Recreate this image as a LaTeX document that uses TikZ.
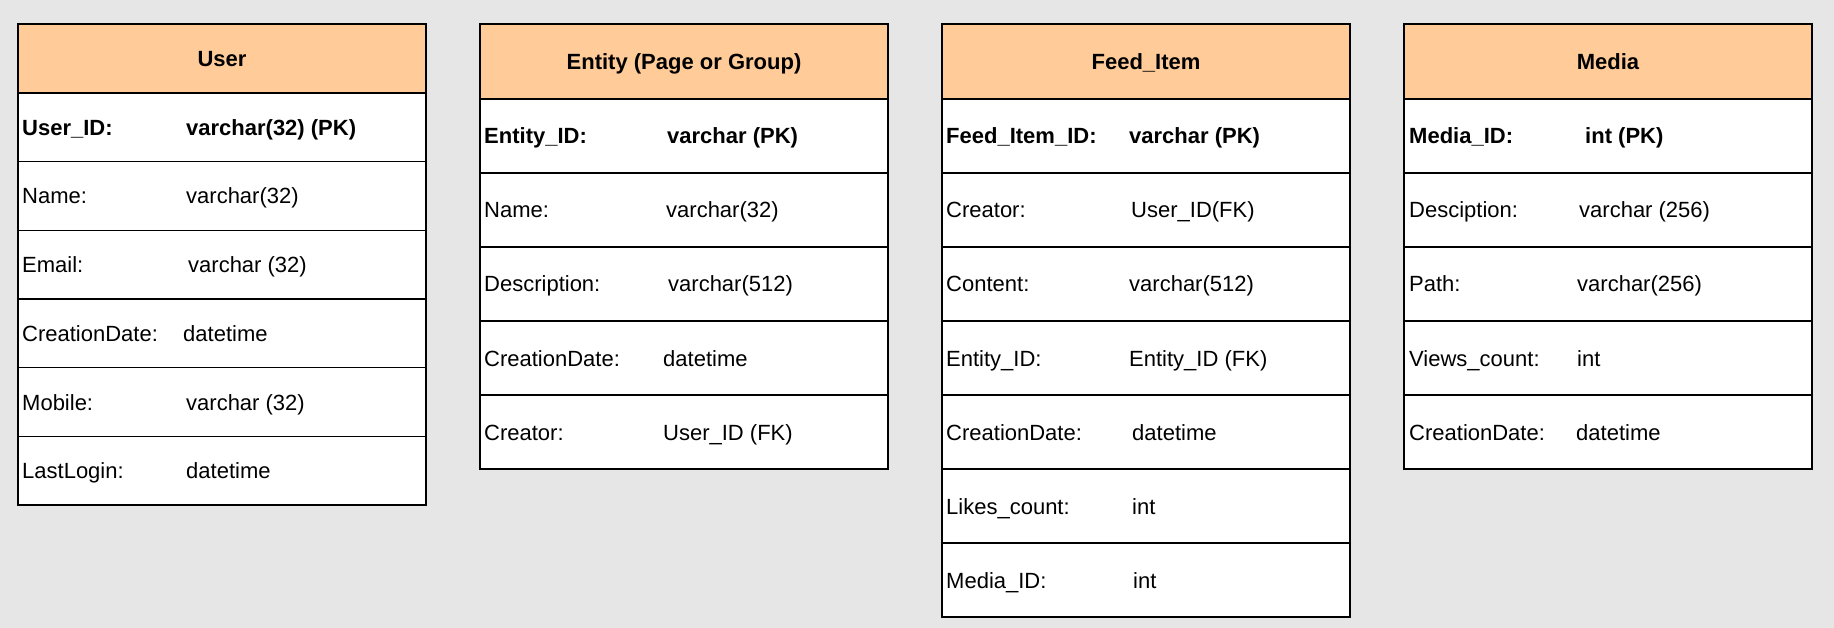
\documentclass[tikz,border=0pt]{standalone}
\usepackage{fontspec}
\setmainfont{Liberation Sans}
\usepackage{tikz}

\definecolor{canvas}{HTML}{E6E6E6}
\definecolor{headfill}{HTML}{FFCC99}

\tikzset{
  tabhead/.style={draw=black, fill=headfill, line width=1.3pt, minimum width=408pt,
    inner sep=0pt, text height=15.8pt, text depth=0pt,
    font=\fontsize{22}{26}\selectfont\bfseries},
  tabrow/.style={draw=black, fill=white, line width=1.3pt, minimum width=408pt, inner sep=0pt},
  fieldtxt/.style={anchor=base west, inner sep=0pt, font=\fontsize{22}{26}\selectfont},
  keytxt/.style={fieldtxt, font=\fontsize{22}{26}\selectfont\bfseries},
}

\begin{document}
\begin{tikzpicture}[x=1pt, y=-1pt]
  \fill[canvas] (0,0) rectangle (1834,628);
  \useasboundingbox (0,0) rectangle (1834,628);

  % User
  \node (user-0) at (222, 58.5) [tabhead, minimum height=69pt] {User};
  \node (user-1) at (222, 127.3) [tabrow, minimum height=68.67pt] {};
  \node (user-2) at (222, 196) [tabrow, minimum height=68.67pt] {};
  \node (user-3) at (222, 264.7) [tabrow, minimum height=68.67pt] {};
  \node (user-4) at (222, 333.3) [tabrow, minimum height=68.67pt] {};
  \node (user-5) at (222, 402) [tabrow, minimum height=68.67pt] {};
  \node (user-6) at (222, 470.7) [tabrow, minimum height=68.67pt] {};
  \node (user-1-key) at (22, 135.3) [keytxt] {User\_ID:};
  \node (user-1-type) at (186, 135.3) [keytxt] {varchar(32) (PK)};
  \node (user-2-key) at (22, 204) [fieldtxt] {Name:};
  \node (user-2-type) at (186, 204) [fieldtxt] {varchar(32)};
  \node (user-3-key) at (22, 272.7) [fieldtxt] {Email:};
  \node (user-3-type) at (188, 272.7) [fieldtxt] {varchar (32)};
  \node (user-4-key) at (22, 341.3) [fieldtxt] {CreationDate:};
  \node (user-4-type) at (183, 341.3) [fieldtxt] {datetime};
  \node (user-5-key) at (22, 410) [fieldtxt] {Mobile:};
  \node (user-5-type) at (186, 410) [fieldtxt] {varchar (32)};
  \node (user-6-key) at (22, 478.7) [fieldtxt] {LastLogin:};
  \node (user-6-type) at (186, 478.7) [fieldtxt] {datetime};

  % Entity
  \node (entity-0) at (684, 61.5) [tabhead, minimum height=75pt] {Entity (Page or Group)};
  \node (entity-1) at (684, 136) [tabrow, minimum height=74pt] {};
  \node (entity-2) at (684, 210) [tabrow, minimum height=74pt] {};
  \node (entity-3) at (684, 284) [tabrow, minimum height=74pt] {};
  \node (entity-4) at (684, 358) [tabrow, minimum height=74pt] {};
  \node (entity-5) at (684, 432) [tabrow, minimum height=74pt] {};
  \node (entity-1-key) at (484, 144) [keytxt] {Entity\_ID:};
  \node (entity-1-type) at (667, 144) [keytxt] {varchar (PK)};
  \node (entity-2-key) at (484, 218) [fieldtxt] {Name:};
  \node (entity-2-type) at (666, 218) [fieldtxt] {varchar(32)};
  \node (entity-3-key) at (484, 292) [fieldtxt] {Description:};
  \node (entity-3-type) at (668, 292) [fieldtxt] {varchar(512)};
  \node (entity-4-key) at (484, 366) [fieldtxt] {CreationDate:};
  \node (entity-4-type) at (663, 366) [fieldtxt] {datetime};
  \node (entity-5-key) at (484, 440) [fieldtxt] {Creator:};
  \node (entity-5-type) at (663, 440) [fieldtxt] {User\_ID (FK)};

  % Feed_Item
  \node (feed-0) at (1146, 61.5) [tabhead, minimum height=75pt] {Feed\_Item};
  \node (feed-1) at (1146, 136) [tabrow, minimum height=74pt] {};
  \node (feed-2) at (1146, 210) [tabrow, minimum height=74pt] {};
  \node (feed-3) at (1146, 284) [tabrow, minimum height=74pt] {};
  \node (feed-4) at (1146, 358) [tabrow, minimum height=74pt] {};
  \node (feed-5) at (1146, 432) [tabrow, minimum height=74pt] {};
  \node (feed-6) at (1146, 506) [tabrow, minimum height=74pt] {};
  \node (feed-7) at (1146, 580) [tabrow, minimum height=74pt] {};
  \node (feed-1-key) at (946, 144) [keytxt] {Feed\_Item\_ID:};
  \node (feed-1-type) at (1129, 144) [keytxt] {varchar (PK)};
  \node (feed-2-key) at (946, 218) [fieldtxt] {Creator:};
  \node (feed-2-type) at (1131, 218) [fieldtxt] {User\_ID(FK)};
  \node (feed-3-key) at (946, 292) [fieldtxt] {Content:};
  \node (feed-3-type) at (1129, 292) [fieldtxt] {varchar(512)};
  \node (feed-4-key) at (946, 366) [fieldtxt] {Entity\_ID:};
  \node (feed-4-type) at (1129, 366) [fieldtxt] {Entity\_ID (FK)};
  \node (feed-5-key) at (946, 440) [fieldtxt] {CreationDate:};
  \node (feed-5-type) at (1132, 440) [fieldtxt] {datetime};
  \node (feed-6-key) at (946, 514) [fieldtxt] {Likes\_count:};
  \node (feed-6-type) at (1132, 514) [fieldtxt] {int};
  \node (feed-7-key) at (946, 588) [fieldtxt] {Media\_ID:};
  \node (feed-7-type) at (1133, 588) [fieldtxt] {int};

  % Media
  \node (media-0) at (1608, 61.5) [tabhead, minimum height=75pt] {Media};
  \node (media-1) at (1608, 136) [tabrow, minimum height=74pt] {};
  \node (media-2) at (1608, 210) [tabrow, minimum height=74pt] {};
  \node (media-3) at (1608, 284) [tabrow, minimum height=74pt] {};
  \node (media-4) at (1608, 358) [tabrow, minimum height=74pt] {};
  \node (media-5) at (1608, 432) [tabrow, minimum height=74pt] {};
  \node (media-1-key) at (1409, 144) [keytxt] {Media\_ID:};
  \node (media-1-type) at (1585, 144) [keytxt] {int (PK)};
  \node (media-2-key) at (1409, 218) [fieldtxt] {Desciption:};
  \node (media-2-type) at (1579, 218) [fieldtxt] {varchar (256)};
  \node (media-3-key) at (1409, 292) [fieldtxt] {Path:};
  \node (media-3-type) at (1577, 292) [fieldtxt] {varchar(256)};
  \node (media-4-key) at (1409, 366) [fieldtxt] {Views\_count:};
  \node (media-4-type) at (1577, 366) [fieldtxt] {int};
  \node (media-5-key) at (1409, 440) [fieldtxt] {CreationDate:};
  \node (media-5-type) at (1576, 440) [fieldtxt] {datetime};
\end{tikzpicture}
\end{document}
